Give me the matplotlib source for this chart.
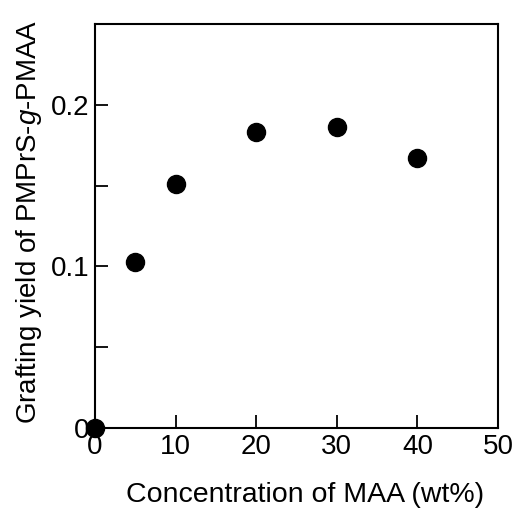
import numpy as np
import matplotlib.pyplot as plt
from matplotlib.ticker import MultipleLocator

plt.rcParams['font.family'] = ['Liberation Sans', 'DejaVu Sans']
plt.rcParams['mathtext.fontset'] = 'custom'
plt.rcParams['mathtext.it'] = 'Liberation Sans:italic'
plt.rcParams['mathtext.rm'] = 'Liberation Sans'

# MAA concentration (wt%) and grafting yield
maa_conc = [0, 5, 10, 20, 30, 40]
graft_yield = [0.0, 0.103, 0.151, 0.183, 0.186, 0.167]

fig = plt.figure(figsize=(5.16, 5.12), dpi=100)
ax = fig.add_axes([95/516, 1 - 428/512, 403/516, 404/512])

ax.plot(maa_conc, graft_yield, 'o', color='black', markersize=13, clip_on=False, zorder=5)

ax.set_xlim(0, 50)
ax.set_ylim(0, 0.25)
ax.set_xticks([0, 10, 20, 30, 40, 50])
ax.set_yticks([0, 0.1, 0.2])
ax.set_yticklabels(['0', '0.1', '0.2'])
ax.yaxis.set_minor_locator(MultipleLocator(0.05))

for s in ax.spines.values():
    s.set_linewidth(1.5)
ax.tick_params(which='both', direction='in', width=1.3, length=9.5, labelsize=20, pad=4)
ax.tick_params(axis='x', which='both', top=False)
ax.tick_params(axis='y', which='both', right=False)

ax.set_xlabel('Concentration of MAA (wt%)', fontsize=20.5, va='center')
ax.set_ylabel(r'Grafting yield of PMPrS-$\it{g}$-PMAA', fontsize=20, va='center')
ax.xaxis.set_label_coords(0.521, -0.166)
ax.yaxis.set_label_coords(-0.163, 0.51)

plt.savefig('out.png', dpi=100)
